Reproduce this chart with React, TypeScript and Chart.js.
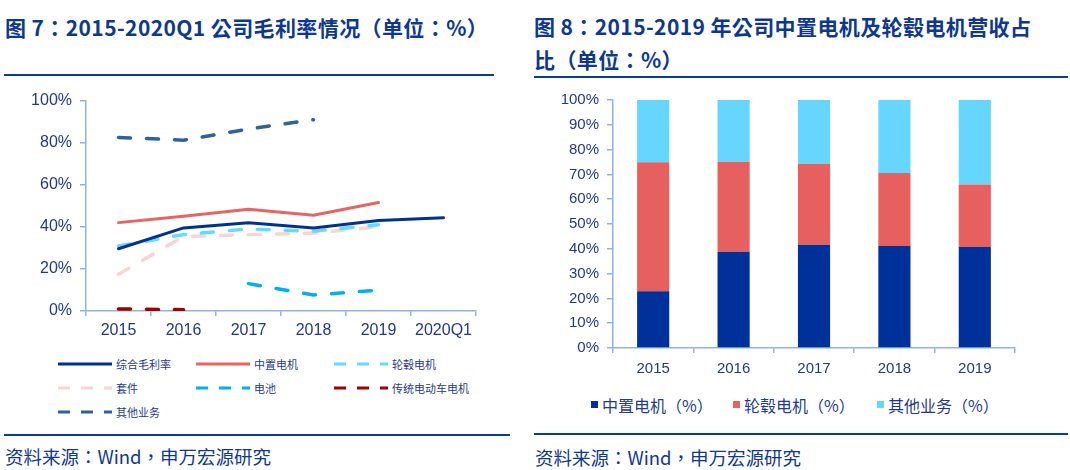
import React, { useEffect, useRef } from "react";
import { Chart, registerables } from "chart.js";
Chart.register(...registerables);

// ---------- data: left chart (gross margin, %) ----------
const lineCategories = ["2015", "2016", "2017", "2018", "2019", "2020Q1"];
const grossMargin = [29.6, 39.5, 42.0, 39.5, 43.0, 44.3];
const midMotor = [42.0, 45.0, 48.4, 45.5, 51.6, null];
const hubMotor = [30.9, 36.3, 39.0, 37.9, 41.0, null];
const kit = [17.5, 35.4, 36.3, 37.0, 40.1, null];
const battery = [null, null, 13.0, 7.6, 9.9, null];
const traditionalMotor = [1.0, 0.6, null, null, null, null];
const otherBusiness = [82.5, 81.2, 86.5, 90.9, null, null];

// ---------- data: right chart (revenue share, %) ----------
const barCategories = ["2015", "2016", "2017", "2018", "2019"];
const barMidMotor = [22.9, 38.8, 41.6, 41.1, 40.7];
const barHubMotor = [52.0, 36.3, 32.7, 29.5, 25.2];
const barOther = [25.1, 24.9, 25.7, 29.4, 34.1];

const leftTitle = "图 7：2015-2020Q1 公司毛利率情况（单位：%）";
const rightTitle1 = "图 8：2015-2019 年公司中置电机及轮毂电机营收占";
const rightTitle2 = "比（单位：%）";
const sourceText = "资料来源：Wind，申万宏源研究";

const TEXT = "#1F3A8C";
const TITLE = "#0E3890";
const RULE = "#0B3A98";
const AXIS = "#8DB4E2";
const CJK = '"Noto Sans CJK TC", "Noto Sans CJK SC", "Noto Sans", sans-serif';
const LATIN = '"Liberation Sans", Arial, sans-serif';

const C_GROSS = "#00318F";
const C_MID = "#E86464";
const C_HUB = "#66D9FF";
const C_KIT = "#F8D4D4";
const C_BAT = "#00B0F0";
const C_TRAD = "#A00000";
const C_OTHER = "#2E6299";

const DASH = [12, 16];

const lineSeries = [
  { label: "综合毛利率", data: grossMargin, color: C_GROSS, dash: [] as number[] },
  { label: "中置电机", data: midMotor, color: C_MID, dash: [] as number[] },
  { label: "轮毂电机", data: hubMotor, color: C_HUB, dash: DASH },
  { label: "套件", data: kit, color: C_KIT, dash: DASH },
  { label: "电池", data: battery, color: C_BAT, dash: DASH },
  { label: "传统电动车电机", data: traditionalMotor, color: C_TRAD, dash: DASH },
  { label: "其他业务", data: otherBusiness, color: C_OTHER, dash: DASH },
];

const barSeries = [
  { label: "中置电机（%）", data: barMidMotor, color: "#00309A" },
  { label: "轮毂电机（%）", data: barHubMotor, color: "#E66060" },
  { label: "其他业务（%）", data: barOther, color: "#66D6FF" },
];

function LineChart() {
  const ref = useRef<HTMLCanvasElement>(null);
  useEffect(() => {
    const chart = new Chart(ref.current!, {
      type: "line",
      data: {
        labels: lineCategories,
        datasets: lineSeries.map((s) => ({
          label: s.label,
          data: s.data,
          borderColor: s.color,
          backgroundColor: s.color,
          borderWidth: s.dash.length ? 3.5 : 3,
          borderDash: s.dash,
          borderCapStyle: "round" as const,
          pointRadius: 0,
          tension: 0,
          spanGaps: false,
        })),
      },
      options: {
        animation: false,
        responsive: false,
        layout: { padding: { top: 2, right: 14, left: 0, bottom: 0 } },
        plugins: { legend: { display: false }, tooltip: { enabled: false } },
        scales: {
          x: {
            offset: true,
            grid: { offset: true, drawOnChartArea: false, color: AXIS, tickLength: 5, lineWidth: 1.5 },
            border: { color: AXIS, width: 1.5 },
            ticks: { color: TEXT, font: { family: LATIN, size: 16 }, padding: 5, maxRotation: 0 },
            afterFit: (s: any) => { s.height = 36; },
          },
          y: {
            min: 0,
            max: 100,
            grid: { drawOnChartArea: false, color: AXIS, tickLength: 6, lineWidth: 1.5 },
            border: { color: AXIS, width: 1.5 },
            ticks: {
              stepSize: 20,
              color: TEXT,
              font: { family: LATIN, size: 16 },
              padding: 8,
              callback: (v: any) => v + "%",
            },
            afterFit: (s: any) => { s.width = 56; },
          },
        },
      },
    });
    return () => chart.destroy();
  }, []);
  return (
    <canvas
      ref={ref}
      width={460}
      height={264}
      style={{ position: "absolute", left: 30, top: 83, width: 460, height: 264 }}
    />
  );
}

function BarChart() {
  const ref = useRef<HTMLCanvasElement>(null);
  useEffect(() => {
    const chart = new Chart(ref.current!, {
      type: "bar",
      data: {
        labels: barCategories,
        datasets: barSeries.map((s) => ({
          label: s.label,
          data: s.data,
          backgroundColor: s.color,
          borderWidth: 0,
          categoryPercentage: 1,
          barPercentage: 0.4,
        })),
      },
      options: {
        animation: false,
        responsive: false,
        layout: { padding: { top: 2, right: 15, left: 0, bottom: 0 } },
        plugins: { legend: { display: false }, tooltip: { enabled: false } },
        scales: {
          x: {
            stacked: true,
            grid: { offset: true, drawOnChartArea: false, color: AXIS, tickLength: 5, lineWidth: 1.5 },
            border: { color: AXIS, width: 1.5 },
            ticks: { color: TEXT, font: { family: LATIN, size: 15 }, padding: 7, maxRotation: 0 },
            afterFit: (s: any) => { s.height = 33; },
          },
          y: {
            stacked: true,
            min: 0,
            max: 100,
            grid: { drawOnChartArea: false, color: AXIS, tickLength: 6, lineWidth: 1.5 },
            border: { color: AXIS, width: 1.5 },
            ticks: {
              stepSize: 10,
              color: TEXT,
              font: { family: LATIN, size: 15 },
              padding: 8,
              callback: (v: any) => v + "%",
            },
            afterFit: (s: any) => { s.width = 53; },
          },
        },
      },
    });
    return () => chart.destroy();
  }, []);
  return (
    <canvas
      ref={ref}
      width={470}
      height={298}
      style={{ position: "absolute", left: 560, top: 83, width: 470, height: 298 }}
    />
  );
}

const abs = (o: React.CSSProperties): React.CSSProperties => ({ position: "absolute", ...o });

function LeftLegend() {
  const cols = [57, 195, 333];
  const rows = [364, 388, 412];
  return (
    <>
      {lineSeries.map((s, i) => {
        const x = cols[i % 3];
        const y = rows[Math.floor(i / 3)];
        return (
          <React.Fragment key={s.label}>
            <svg style={abs({ left: x, top: y - 3, width: 56, height: 6 })} width={56} height={6}>
              <line
                x1={1}
                y1={3}
                x2={55}
                y2={3}
                stroke={s.color}
                strokeWidth={3}
                strokeDasharray={s.dash.length ? "12 11" : undefined}
              />
            </svg>
            <div
              style={abs({
                left: x + 59,
                top: y - 8,
                lineHeight: "16px",
                fontSize: 11,
                fontFamily: CJK,
                color: TEXT,
                whiteSpace: "nowrap",
              })}
            >
              {s.label}
            </div>
          </React.Fragment>
        );
      })}
    </>
  );
}

function RightLegend() {
  const xs = [591, 733, 877];
  const y = 405;
  return (
    <>
      {barSeries.map((s, i) => (
        <React.Fragment key={s.label}>
          <div style={abs({ left: xs[i], top: y - 4, width: 7, height: 7, background: s.color })} />
          <div
            style={abs({
              left: xs[i] + 11,
              top: y - 11,
              lineHeight: "22px",
              fontSize: 16,
              fontFamily: CJK,
              color: TEXT,
              whiteSpace: "nowrap",
            })}
          >
            {s.label}
          </div>
        </React.Fragment>
      ))}
    </>
  );
}

export default function App() {
  const titleStyle: React.CSSProperties = {
    fontFamily: CJK,
    fontWeight: 700,
    fontSize: 21,
    letterSpacing: 0.4,
    color: TITLE,
    whiteSpace: "nowrap",
  };
  const srcStyle: React.CSSProperties = {
    fontFamily: CJK,
    fontSize: 18.5,
    color: TITLE,
    whiteSpace: "nowrap",
    lineHeight: "24px",
  };
  return (
    <div style={abs({ left: 0, top: 0, width: 1070, height: 470, background: "#fff", overflow: "hidden" })}>
      <div style={abs({ ...titleStyle, left: 5, top: 12, lineHeight: "30px" })}>{leftTitle}</div>
      <div style={abs({ ...titleStyle, left: 534, top: 10, lineHeight: "33px" })}>
        {rightTitle1}
        <br />
        {rightTitle2}
      </div>
      <div style={abs({ left: 4, top: 74, width: 490, height: 2, background: RULE })} />
      <div style={abs({ left: 534, top: 76, width: 534, height: 2, background: RULE })} />

      <LineChart />
      <LeftLegend />
      <BarChart />
      <RightLegend />

      <div style={abs({ left: 4, top: 434, width: 506, height: 2, background: RULE })} />
      <div style={abs({ left: 534, top: 433, width: 534, height: 2, background: RULE })} />
      <div style={abs({ ...srcStyle, left: 5, top: 444 })}>{sourceText}</div>
      <div style={abs({ ...srcStyle, left: 535, top: 445 })}>{sourceText}</div>
    </div>
  );
}
